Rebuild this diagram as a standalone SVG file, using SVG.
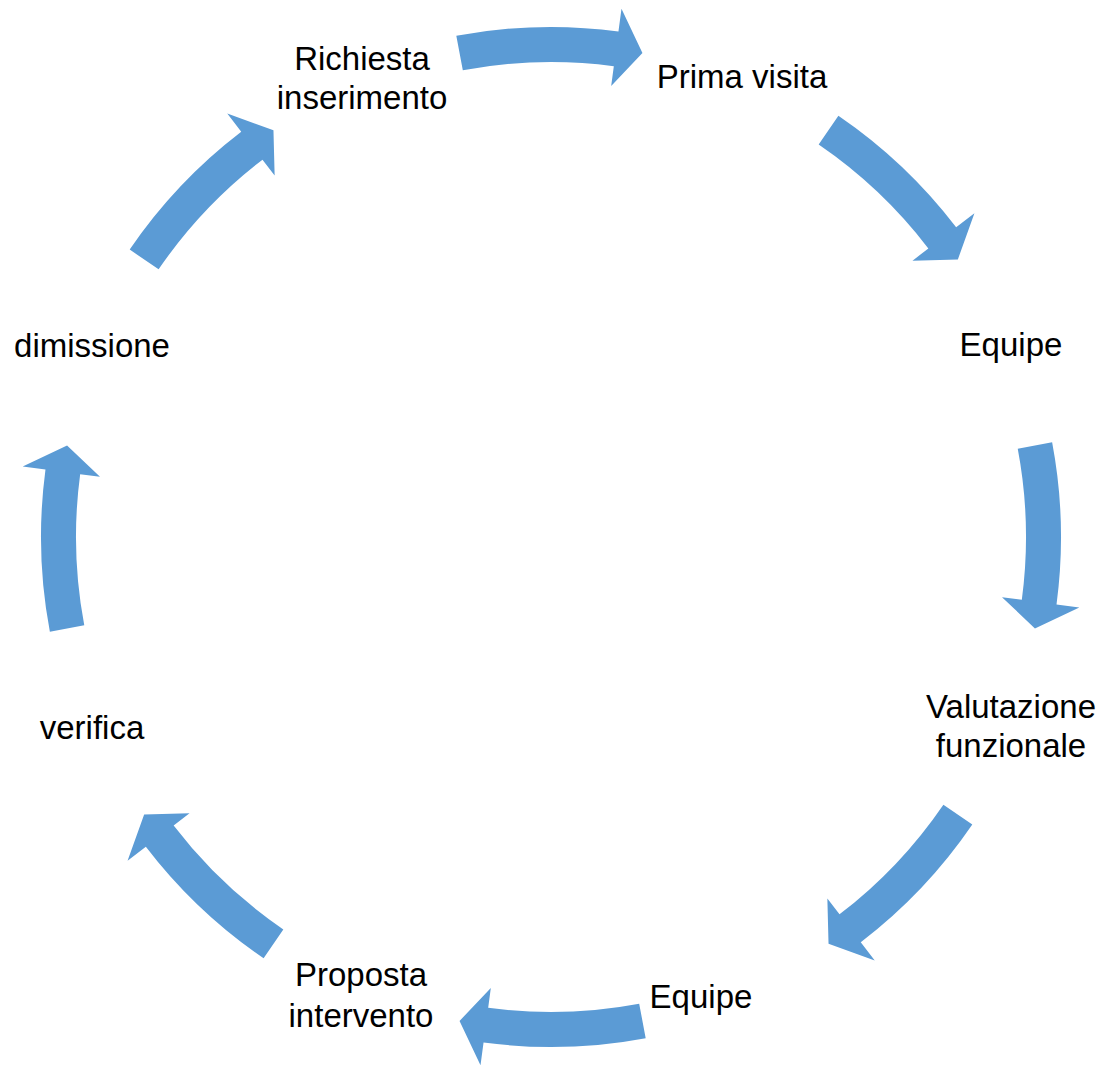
<svg xmlns="http://www.w3.org/2000/svg" xmlns:xlink="http://www.w3.org/1999/xlink" width="1110" height="1066" viewBox="0 0 1110 1066">
<style>
.lbl{font-family:"Liberation Sans",Arial,sans-serif;font-size:33px;fill:#000;text-anchor:middle}
.arr{fill:#5B9BD5}
</style>
<defs>
<path id="arrow" d="M -94.69 -501.13 A 510 510 0 0 1 67.45 -505.52 L 70.49 -528.32 L 91.44 -483.94 L 60.18 -451.01 L 62.82 -470.83 A 475 475 0 0 0 -88.19 -466.74 Z"/>
</defs>
<rect width="1110" height="1066" fill="#fff"/>
<g id="connectors" class="arr">
<use xlink:href="#arrow" href="#arrow" transform="translate(551,537) rotate(0)"/>
<use xlink:href="#arrow" href="#arrow" transform="translate(551,537) rotate(45)"/>
<use xlink:href="#arrow" href="#arrow" transform="translate(551,537) rotate(90)"/>
<use xlink:href="#arrow" href="#arrow" transform="translate(551,537) rotate(135)"/>
<use xlink:href="#arrow" href="#arrow" transform="translate(551,537) rotate(180)"/>
<use xlink:href="#arrow" href="#arrow" transform="translate(551,537) rotate(225)"/>
<use xlink:href="#arrow" href="#arrow" transform="translate(551,537) rotate(270)"/>
<use xlink:href="#arrow" href="#arrow" transform="translate(551,537) rotate(315)"/>
</g>
<g id="node-richiesta"><text class="lbl" x="362" y="70">Richiesta</text><text class="lbl" x="362" y="109">inserimento</text></g>
<g id="node-prima-visita"><text class="lbl" x="742" y="88">Prima visita</text></g>
<g id="node-equipe-1"><text class="lbl" x="1011" y="356">Equipe</text></g>
<g id="node-valutazione"><text class="lbl" x="1011" y="718">Valutazione</text><text class="lbl" x="1011" y="757">funzionale</text></g>
<g id="node-equipe-2"><text class="lbl" x="701" y="1008">Equipe</text></g>
<g id="node-proposta"><text class="lbl" x="361" y="986">Proposta</text><text class="lbl" x="361" y="1027">intervento</text></g>
<g id="node-verifica"><text class="lbl" x="92" y="739">verifica</text></g>
<g id="node-dimissione"><text class="lbl" x="92" y="357">dimissione</text></g>
</svg>
